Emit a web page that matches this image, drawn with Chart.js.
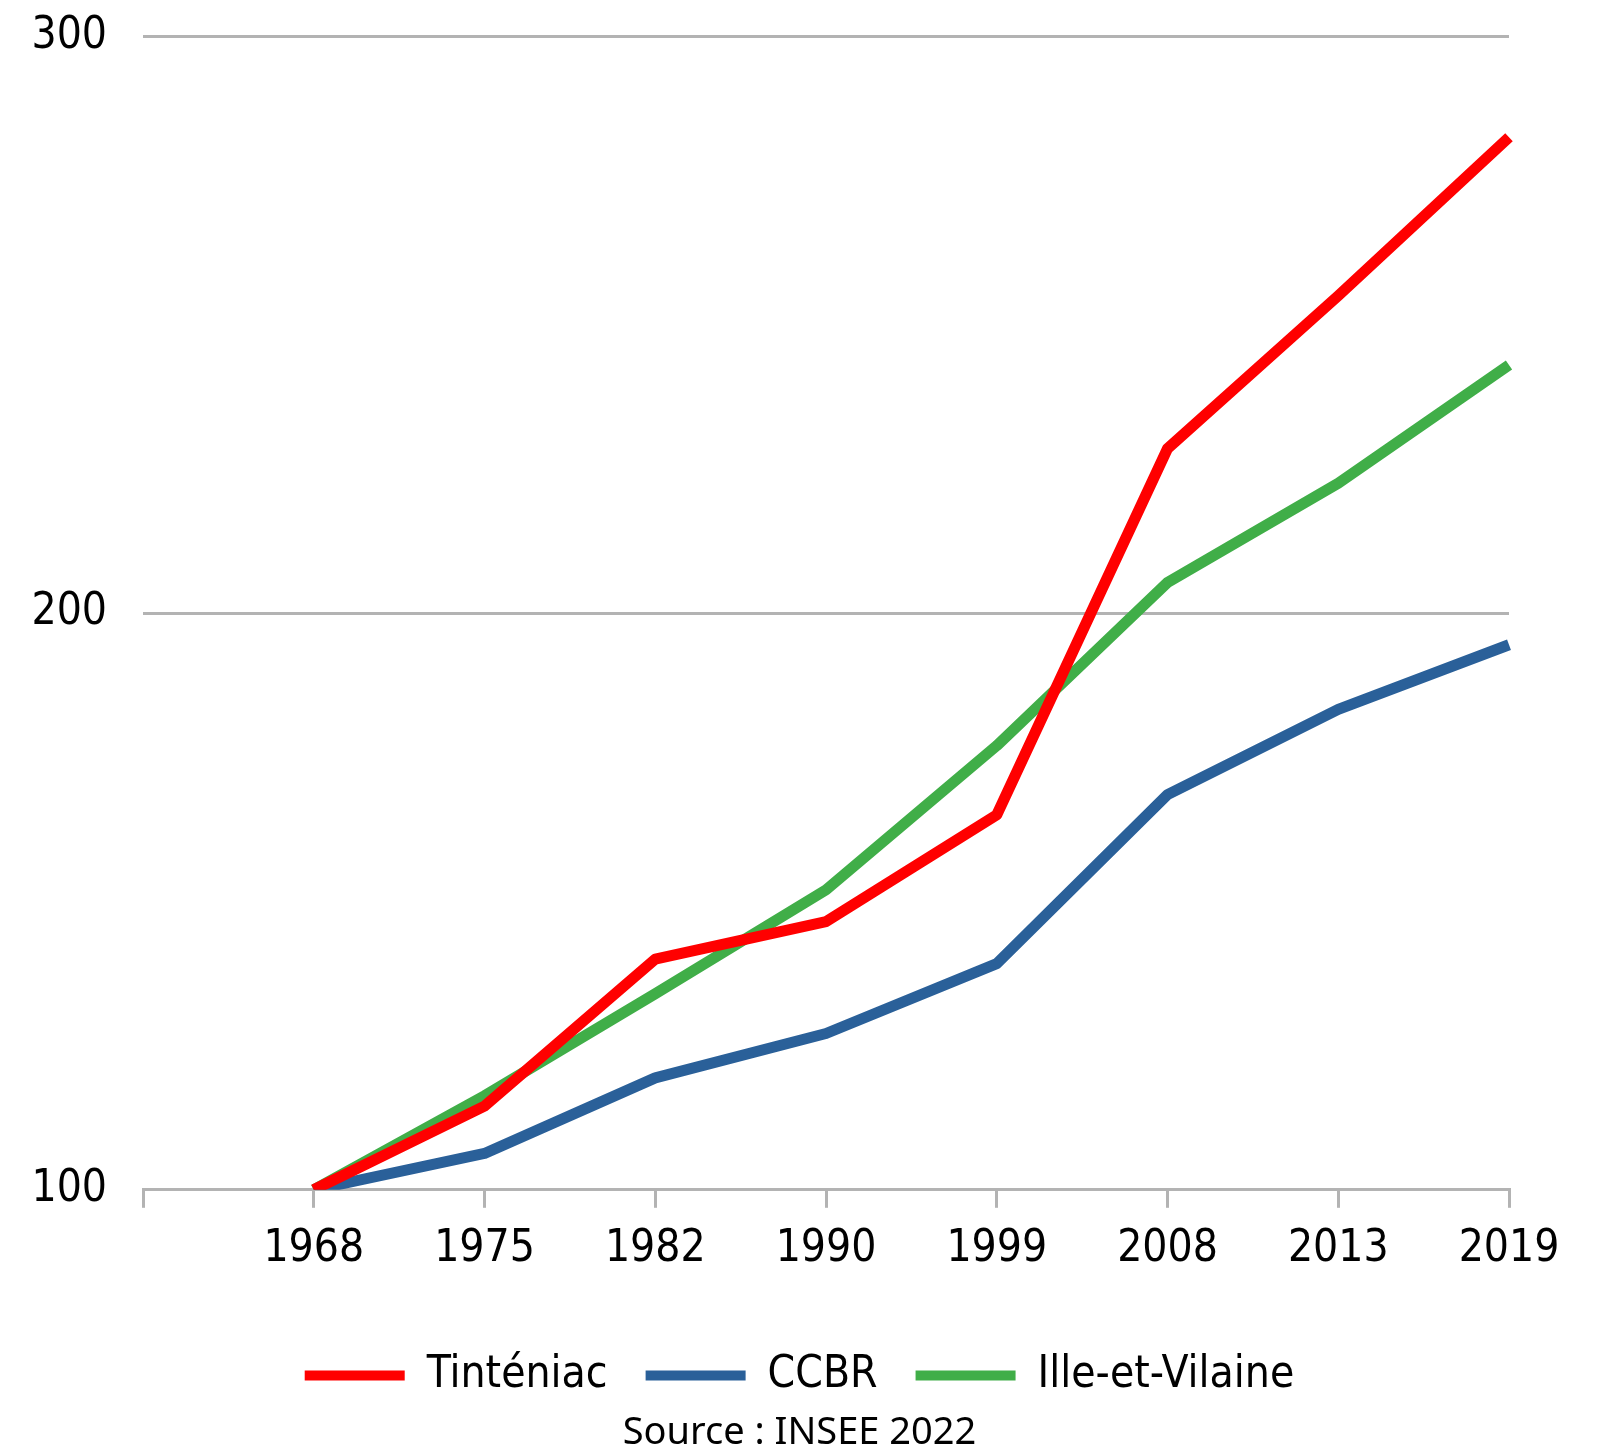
<!DOCTYPE html>
<html>
<head>
  <meta charset="UTF-8">
  <title>Tinténiac population index</title>
  <script src="https://cdn.jsdelivr.net/npm/chart.js@4.4.1/dist/chart.umd.min.js"></script>
  <style>
    html, body {
      margin: 0;
      padding: 0;
      background: #fff;
    }
    #wrap {
      width: 1599px;
      height: 1450px;
      position: relative;
    }
  </style>
</head>
<body>
<div id="wrap"><canvas id="chart"></canvas></div>

<script>
// index base 100 in 1968; first empty slot leaves room before 1968
const years = ['', '1968', '1975', '1982', '1990', '1999', '2008', '2013', '2019'];
const tinteniac = [null, 100, 114.5, 140, 146.5, 165, 228.5, 255, 282.5];
const ccbr = [null, 100, 106.3, 119.4, 127.1, 139.2, 168.5, 183.3, 194.5];
const illeEtVilaine = [null, 100, 116.3, 134, 152, 177, 205.3, 222.5, 243];
const yTicks = [100, 200, 300];

const FONT = '"DejaVu Sans Condensed", "DejaVu Sans", sans-serif';
const SRC_FONT = '"Noto Sans", sans-serif';
const GRID = '#b3b3b3';

const line = (label, data, color) => ({
  label,
  data,
  borderColor: color,
  backgroundColor: color,
  borderWidth: 11,
  pointRadius: 0,
  tension: 0,
  borderJoinStyle: 'round',
  spanGaps: false
});

new Chart(document.getElementById('chart'), {
  type: 'line',
  data: {
    labels: years,
    datasets: [
      line('Tinténiac', tinteniac, '#ff0000'),
      line('CCBR', ccbr, '#2a6099'),
      line('Ille-et-Vilaine', illeEtVilaine, '#40ae48')
    ]
  },
  options: {
    responsive: true,
    maintainAspectRatio: false,
    animation: false,
    layout: { padding: 0 },
    scales: {
      x: {
        // extra room under the year labels, and a right margin that leaves legend/title centred on the page
        afterFit: axis => { axis.height += 25; axis.paddingRight = 90; },
        grid: {
          drawOnChartArea: false,
          drawTicks: true,
          tickLength: 18,
          color: GRID,
          lineWidth: 3
        },
        border: { display: true, color: GRID, width: 3 },
        ticks: {
          color: '#000',
          padding: 15,
          maxRotation: 0,
          autoSkip: false,
          font: { family: FONT, size: 44, lineHeight: 1.2 }
        }
      },
      y: {
        min: 100,
        max: 300,
        afterBuildTicks: axis => { axis.ticks = yTicks.map(v => ({ value: v })); },
        afterFit: axis => { axis.width = 143; },
        grid: { color: GRID, lineWidth: 3, drawTicks: false },
        border: { display: false },
        ticks: {
          color: '#000',
          padding: 36,
          font: { family: FONT, size: 44, lineHeight: 0.01 }
        }
      }
    },
    plugins: {
      legend: {
        position: 'bottom',
        labels: {
          boxWidth: 100,
          boxHeight: 10,
          padding: 38,
          color: '#000',
          font: { family: FONT, size: 44 },
          generateLabels: chart =>
            Chart.defaults.plugins.legend.labels.generateLabels(chart).map(l => ({ ...l, lineWidth: 0 }))
        }
      },
      title: {
        display: true,
        position: 'bottom',
        text: 'Source : INSEE 2022',
        color: '#000',
        font: { family: SRC_FONT, size: 38, weight: 'normal', lineHeight: 0.8 },
        padding: { top: 10, bottom: 2 }
      },
      tooltip: { enabled: false }
    }
  }
});
</script>
</body>
</html>
